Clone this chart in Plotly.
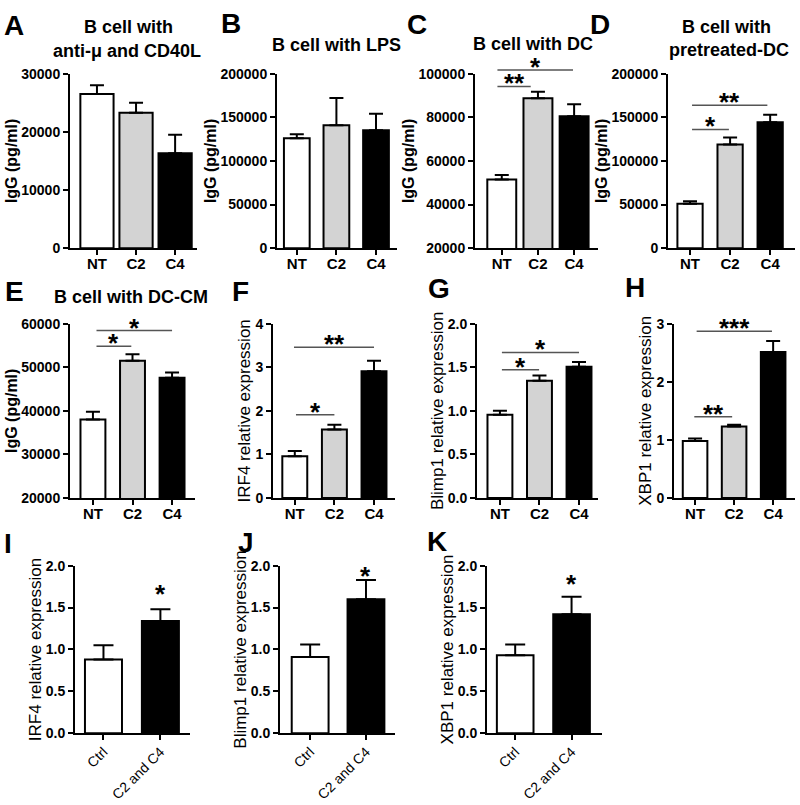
import plotly.graph_objects as go

W, H = 800, 805
FONT = "Liberation Sans, Arial, sans-serif"

# ---------------- data ----------------
cats3 = ["NT", "C2", "C4"]
cats2 = ["Ctrl", "C2 and C4"]
colors3 = ["white", "#d3d3d3", "black"]
colors2 = ["white", "black"]

A_vals = [26500, 23300, 16300]
A_err = [1500, 1700, 3200]
B_vals = [126000, 141000, 135000]
B_err = [4500, 31000, 19000]
C_vals = [51500, 88700, 80500]
C_err = [2000, 3000, 5500]
D_vals = [50800, 118800, 144400]
D_err = [3000, 8000, 8600]
E_vals = [38000, 51500, 47600]
E_err = [1800, 1500, 1200]
F_vals = [0.96, 1.57, 2.91]
F_err = [0.12, 0.11, 0.24]
G_vals = [0.955, 1.345, 1.505]
G_err = [0.045, 0.06, 0.055]
H_vals = [0.98, 1.23, 2.51]
H_err = [0.045, 0.03, 0.19]
I_vals = [0.88, 1.34]
I_err = [0.17, 0.14]
J_vals = [0.91, 1.60]
J_err = [0.15, 0.23]
K_vals = [0.93, 1.42]
K_err = [0.13, 0.21]

# significance brackets: (label, from, to, height)
C_sig = [("**", -0.12, 0.8, 94150), ("*", -0.12, 1.97, 101650)]
D_sig = [("*", 0.05, 0.97, 136000), ("**", 0.05, 1.93, 163700)]
E_sig = [("*", 0.09, 0.97, 54800), ("*", 0.09, 2.0, 58400)]
F_sig = [("*", 0.03, 1.0, 1.91), ("**", -0.02, 2.0, 3.46)]
G_sig = [("*", 0.05, 0.99, 1.47), ("*", 0.05, 2.0, 1.67)]
H_sig = [("**", -0.02, 0.95, 1.40), ("***", 0.04, 1.97, 2.87)]
# single stars above bar: (x, height)
I_star = (1, 1.73)
J_star = (1, 1.95)
K_star = (1, 1.85)

# ---------------- layout per panel ----------------
ROWS = {1: (67, 245), 2: (322, 500), 3: (569, 740)}
panels = [
    dict(letter="A", row=1, px=(70, 197), xr=(-0.69, 2.56), bw=0.85, cats=cats3, cols=colors3,
         vals=A_vals, err=A_err, yr=(0, 30000), dt=10000, fmt="d", yt="IgG (pg/ml)", ytb=True,
         sig=[], star=None, cap=7),
    dict(letter="B", row=1, px=(277, 397), xr=(-0.5, 2.53), bw=0.65, cats=cats3, cols=colors3,
         vals=B_vals, err=B_err, yr=(0, 200000), dt=50000, fmt="d", yt="IgG (pg/ml)", ytb=True,
         sig=[], star=None, cap=7),
    dict(letter="C", row=1, px=(475, 598), xr=(-0.74, 2.66), bw=0.8, cats=cats3, cols=colors3,
         vals=C_vals, err=C_err, yr=(20000, 100000), dt=20000, fmt="d", yt="IgG (pg/ml)", ytb=True,
         sig=C_sig, star=None, cap=7),
    dict(letter="D", row=1, px=(668, 795), xr=(-0.55, 2.62), bw=0.63, cats=cats3, cols=colors3,
         vals=D_vals, err=D_err, yr=(0, 200000), dt=50000, fmt="d", yt="IgG (pg/ml)", ytb=True,
         sig=D_sig, star=None, cap=7),
    dict(letter="E", row=2, px=(70, 195), xr=(-0.58, 2.58), bw=0.63, cats=cats3, cols=colors3,
         vals=E_vals, err=E_err, yr=(20000, 60000), dt=10000, fmt="d", yt="IgG (pg/ml)", ytb=True,
         sig=E_sig, star=None, cap=7),
    dict(letter="F", row=2, px=(273, 395), xr=(-0.55, 2.53), bw=0.63, cats=cats3, cols=colors3,
         vals=F_vals, err=F_err, yr=(0, 4), dt=1, fmt="d", yt="IRF4 relative expression", ytb=False,
         sig=F_sig, star=None, cap=7),
    dict(letter="G", row=2, px=(477, 598), xr=(-0.58, 2.48), bw=0.63, cats=cats3, cols=colors3,
         vals=G_vals, err=G_err, yr=(0, 2), dt=0.5, fmt=".1f", yt="Blimp1 relative expression", ytb=False,
         sig=G_sig, star=None, cap=7),
    dict(letter="H", row=2, px=(674, 795), xr=(-0.54, 2.56), bw=0.63, cats=cats3, cols=colors3,
         vals=H_vals, err=H_err, yr=(0, 3), dt=1, fmt="d", yt="XBP1 relative expression", ytb=False,
         sig=H_sig, star=None, cap=7),
    dict(letter="I", row=3, px=(75, 190), xr=(-0.5, 1.52), bw=0.65, cats=cats2, cols=colors2,
         vals=I_vals, err=I_err, yr=(0, 2), dt=0.5, fmt=".1f", yt="IRF4 relative expression", ytb=False,
         sig=[], star=I_star, cap=10),
    dict(letter="J", row=3, px=(280, 395), xr=(-0.54, 1.52), bw=0.66, cats=cats2, cols=colors2,
         vals=J_vals, err=J_err, yr=(0, 2), dt=0.5, fmt=".1f", yt="Blimp1 relative expression", ytb=False,
         sig=[], star=J_star, cap=10),
    dict(letter="K", row=3, px=(487, 602), xr=(-0.5, 1.54), bw=0.65, cats=cats2, cols=colors2,
         vals=K_vals, err=K_err, yr=(0, 2), dt=0.5, fmt=".1f", yt="XBP1 relative expression", ytb=False,
         sig=[], star=K_star, cap=10),
]

letter_pos = {"A": (14, 18), "B": (231, 16), "C": (417, 17), "D": (600, 17),
              "E": (14, 289), "F": (240, 289), "G": (439, 286), "H": (635, 285),
              "I": (8, 546), "J": (246, 545), "K": (437, 544)}

titles = [("B cell with", 128, 19), ("anti-\u03bc and CD40L", 127, 44),
          ("B cell with LPS", 336, 38), ("B cell with DC", 533, 37),
          ("B cell with", 726, 19), ("pretreated-DC", 729, 43),
          ("B cell with DC-CM", 131, 295)]

fig = go.Figure()
layout = dict(width=W, height=H, margin=dict(l=0, r=0, t=0, b=0),
              paper_bgcolor="white", plot_bgcolor="white", showlegend=False,
              font=dict(family=FONT, color="black"))
shapes = []
annotations = []

for i, p in enumerate(panels):
    n = i + 1
    xa = "x" if n == 1 else f"x{n}"
    ya = "y" if n == 1 else f"y{n}"
    top, bot = ROWS[p["row"]]
    xdom = [p["px"][0] / W, p["px"][1] / W]
    ydom = [1 - bot / H, 1 - top / H]
    xs = list(range(len(p["cats"])))
    fig.add_trace(go.Bar(
        x=xs, y=p["vals"], width=p["bw"], xaxis=xa, yaxis=ya,
        marker=dict(color=p["cols"], line=dict(color="black", width=2)),
        error_y=dict(type="data", symmetric=False, array=p["err"],
                     arrayminus=[0] * len(xs), color="black", thickness=2, width=p["cap"]),
    ))
    rot = p["row"] == 3
    layout["xaxis" if n == 1 else f"xaxis{n}"] = dict(
        domain=xdom, anchor=ya, range=list(p["xr"]), tickmode="array",
        tickvals=xs, ticktext=p["cats"], showline=True, linecolor="black", linewidth=2,
        ticks="outside", ticklen=5, tickwidth=2, tickcolor="black", showgrid=False,
        zeroline=False, tickangle=-45 if rot else 0,
        ticklabelstandoff=-2 if rot else -4,
        tickfont=dict(size=14 if rot else 15, family=FONT, color="black",
                      weight="normal" if rot else "bold"),
        fixedrange=True)
    layout["yaxis" if n == 1 else f"yaxis{n}"] = dict(
        domain=ydom, anchor=xa, range=list(p["yr"]), tick0=p["yr"][0], dtick=p["dt"],
        tickformat=p["fmt"], showline=True, linecolor="black", linewidth=2,
        ticks="outside", ticklen=5, tickwidth=2, tickcolor="black", showgrid=False,
        zeroline=False, tickfont=dict(size=14, family=FONT, color="black", weight="bold"),
        title=dict(text=p["yt"], standoff=0,
                   font=dict(size=16 if p["ytb"] else 17, family=FONT, color="black",
                             weight="bold" if p["ytb"] else "normal")),
        fixedrange=True)
    y0, y1 = p["yr"]
    for lab, a, b, h in p["sig"]:
        yd = (h - y0) / (y1 - y0)
        shapes.append(dict(type="line", xref=xa, yref=f"{ya} domain", x0=a, x1=b, y0=yd, y1=yd,
                           line=dict(color="#555555", width=1.5)))
        annotations.append(dict(text=lab, xref=xa, yref=f"{ya} domain", x=(a + b) / 2, y=yd,
                                yanchor="middle", xanchor="center", yshift=3, showarrow=False,
                                font=dict(size=26, family=FONT, color="black", weight="bold")))
    if p["star"] is not None:
        sx, sy = p["star"]
        annotations.append(dict(text="*", xref=xa, yref=ya, x=sx, y=sy, yanchor="middle",
                                xanchor="center", yshift=-6, showarrow=False,
                                font=dict(size=26, family=FONT, color="black", weight="bold")))
    lx, ly = letter_pos[p["letter"]]
    annotations.append(dict(text=p["letter"], xref="paper", yref="paper", x=lx / W, y=1 - ly / H,
                            xanchor="center", yanchor="middle", showarrow=False,
                            font=dict(size=28, family=FONT, color="black", weight="bold")))

for t, tx, ty in titles:
    annotations.append(dict(text=t, xref="paper", yref="paper", x=tx / W, y=1 - ty / H,
                            xanchor="center", yanchor="middle", showarrow=False,
                            font=dict(size=18, family=FONT, color="black", weight="bold")))

layout["shapes"] = shapes
layout["annotations"] = annotations
fig.update_layout(**layout)
fig.write_html("out.html", config={"displayModeBar": False},
               post_script="document.body.style.margin='0';document.body.style.overflow='hidden';")
